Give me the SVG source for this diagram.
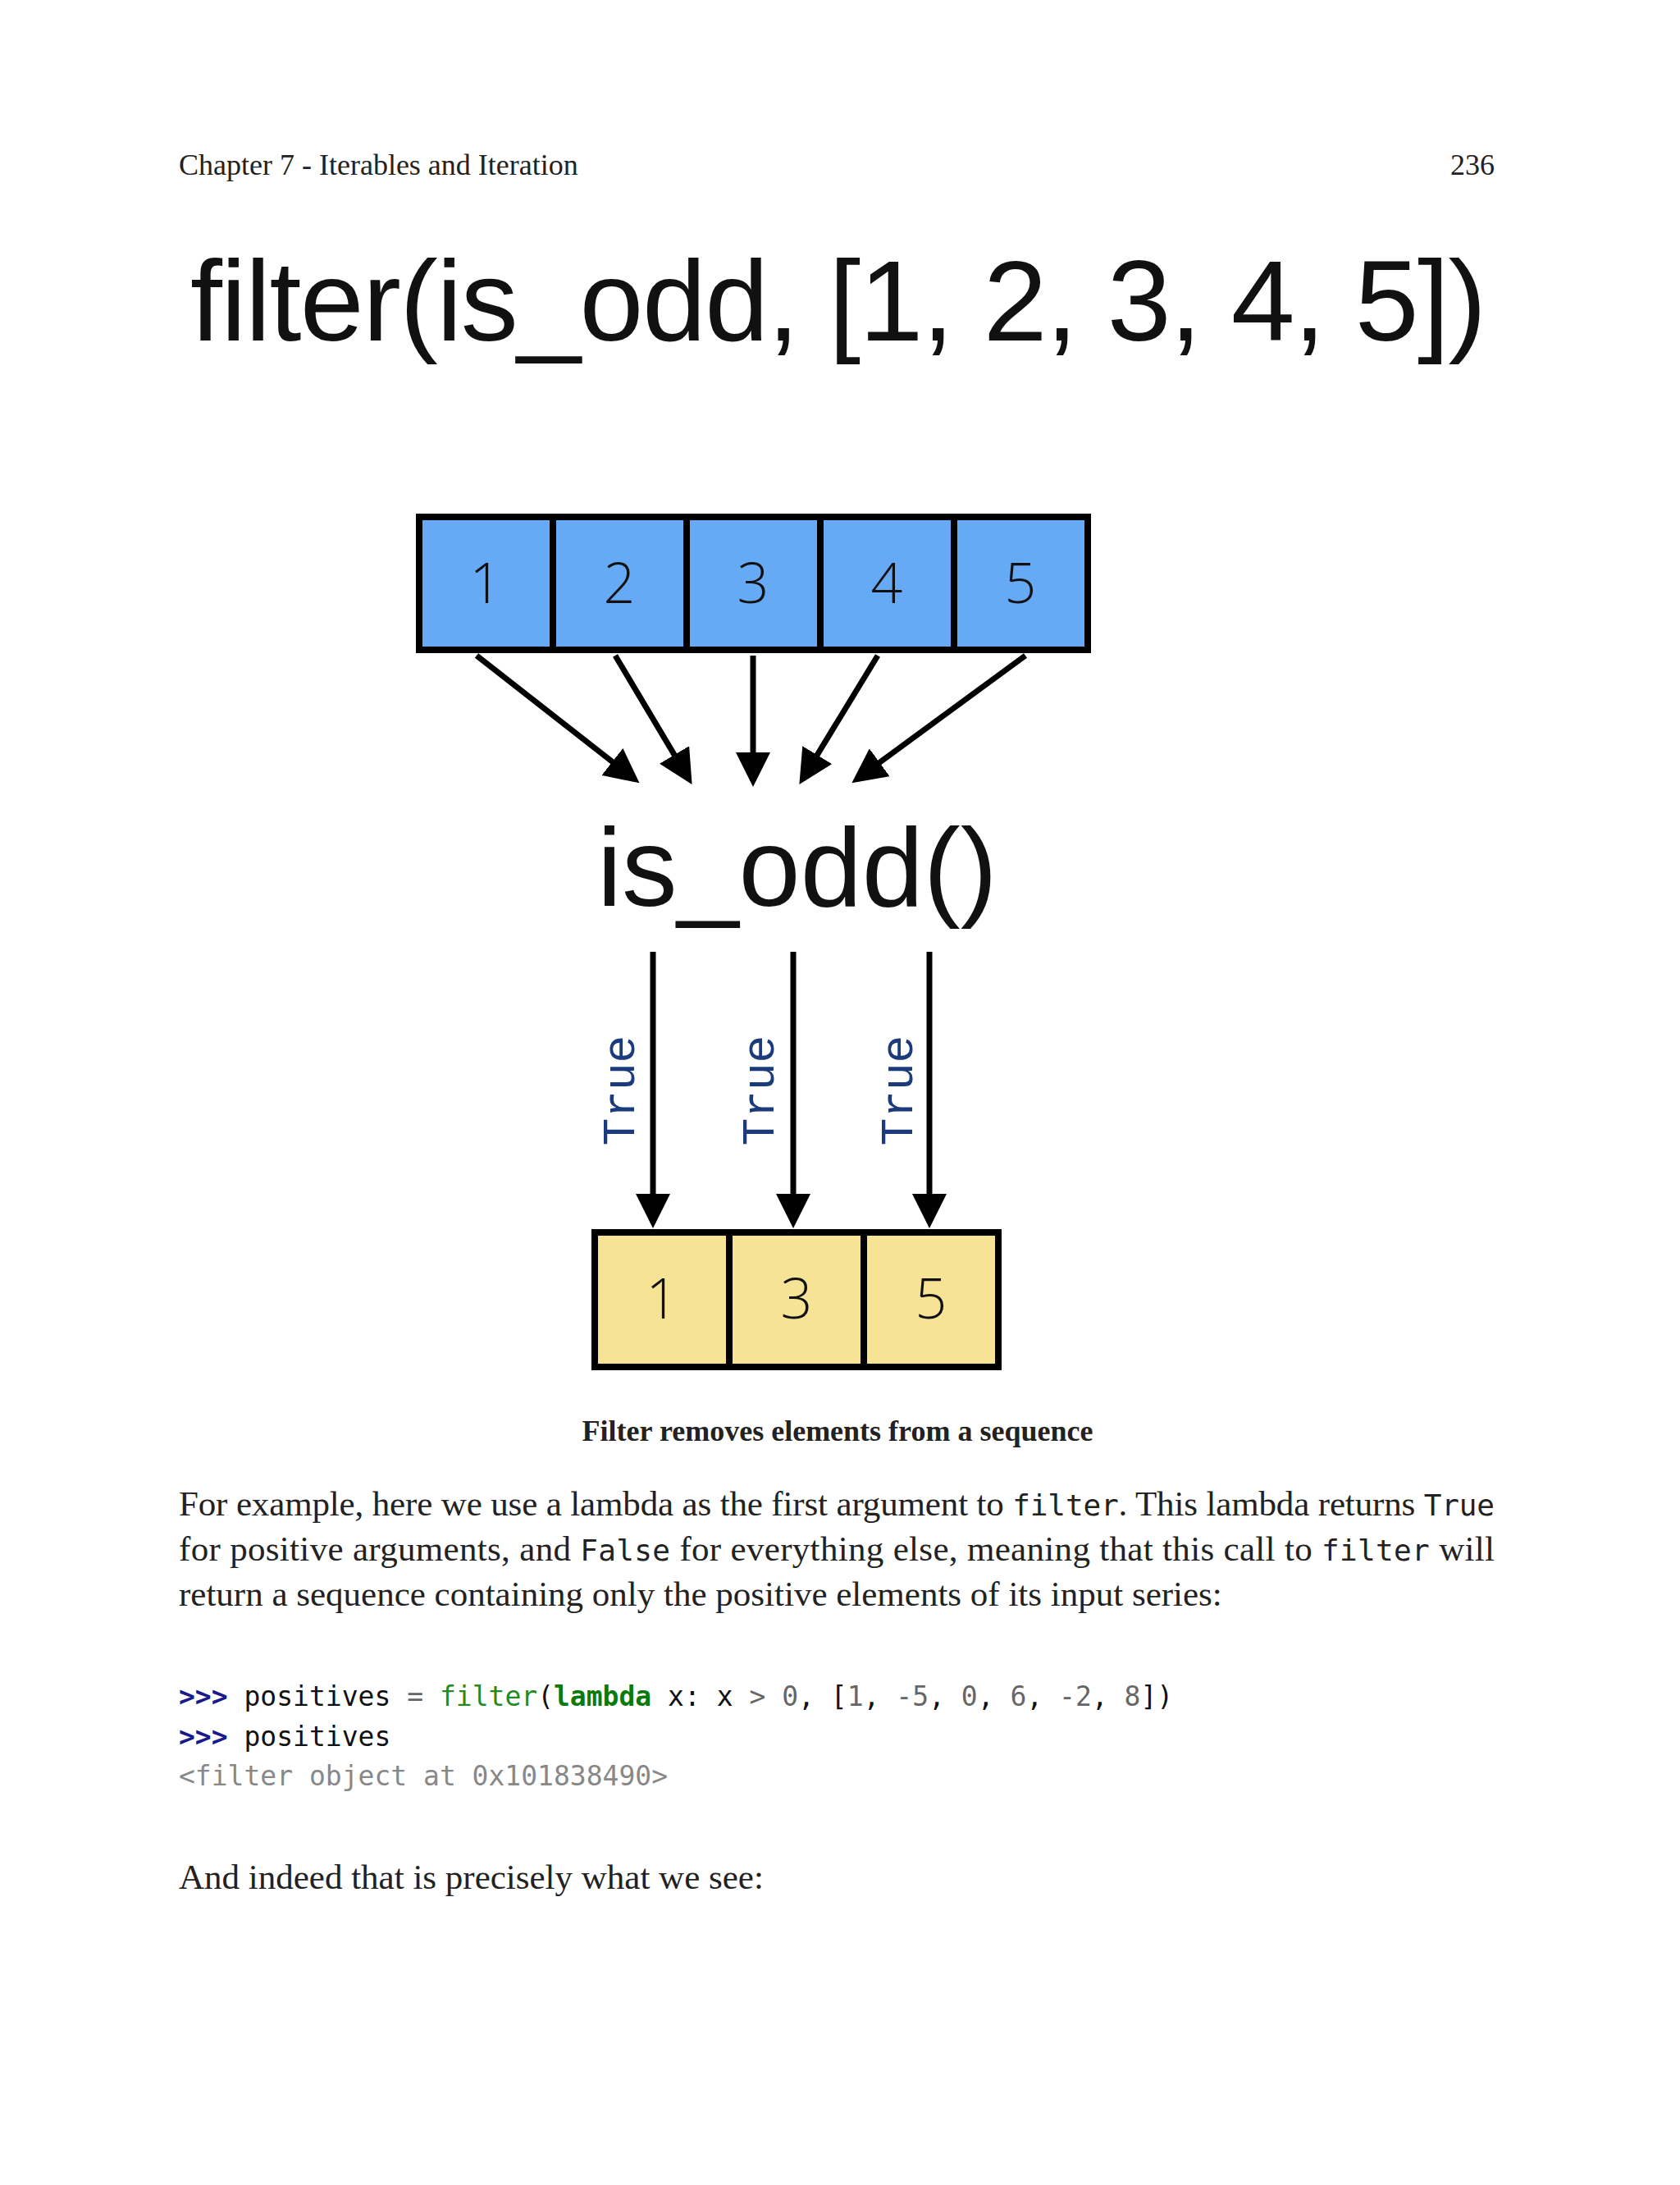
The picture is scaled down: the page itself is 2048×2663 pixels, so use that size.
<svg xmlns="http://www.w3.org/2000/svg" width="2048" height="2663" viewBox="0 0 2048 2663">
<defs>
<style>
.hdr{font-family:"Liberation Serif",serif;font-size:36px;fill:#222}
.cell{stroke:#000;stroke-width:8}
.blue{fill:#66aaf5}
.yel{fill:#f7e396}
.num{font-family:"Open Sans",sans-serif;font-weight:300;font-size:68px;fill:#111;text-anchor:middle}
.conn{stroke:#000;stroke-width:7;fill:none;marker-end:url(#ah)}
.tru{font-family:"Liberation Mono",monospace;font-size:56px;fill:#1c3b7c;text-anchor:middle}
.body{font-family:"Liberation Serif",serif;font-size:43px;fill:#222}
.mono{font-family:"DejaVu Sans Mono",monospace;font-size:36px}
.code{font-family:"DejaVu Sans Mono",monospace;font-size:33px;fill:#111}
</style>
<marker id="ah" markerWidth="6" markerHeight="6" refX="5" refY="3" orient="auto" markerUnits="strokeWidth">
<path d="M0,0 L6,3 L0,6 z" fill="#000"/>
</marker>
</defs>
<rect width="2048" height="2663" fill="#fff"/>
<text class="hdr" x="218" y="213">Chapter 7 - Iterables and Iteration</text>
<text class="hdr" x="1822" y="213" text-anchor="end">236</text>
<text x="232" y="415" font-family="Liberation Sans,sans-serif" font-size="140" fill="#111" textLength="1580" lengthAdjust="spacing">filter(is_odd, [1, 2, 3, 4, 5])</text>
<g id="input">
<rect class="cell blue" x="511" y="630" width="163" height="162"/>
<rect class="cell blue" x="674" y="630" width="163" height="162"/>
<rect class="cell blue" x="837" y="630" width="163" height="162"/>
<rect class="cell blue" x="1000" y="630" width="163" height="162"/>
<rect class="cell blue" x="1163" y="630" width="163" height="162"/>
<text class="num" x="592" y="735">1</text>
<text class="num" x="755" y="735">2</text>
<text class="num" x="918" y="735">3</text>
<text class="num" x="1081" y="735">4</text>
<text class="num" x="1244" y="735">5</text>
</g>
<g id="func">
<text x="728" y="1104" font-family="Liberation Sans,sans-serif" font-size="135" fill="#111">is_odd()</text>
</g>
<g id="output">
<rect class="cell yel" x="725" y="1502" width="164" height="164"/>
<rect class="cell yel" x="889" y="1502" width="164" height="164"/>
<rect class="cell yel" x="1053" y="1502" width="164" height="164"/>
<text class="num" x="807" y="1607">1</text>
<text class="num" x="971" y="1607">3</text>
<text class="num" x="1135" y="1607">5</text>
</g>
<g id="connectors">
<line class="conn" x1="581" y1="799" x2="774" y2="950"/>
<line class="conn" x1="750" y1="799" x2="840" y2="950"/>
<line class="conn" x1="918" y1="799" x2="918" y2="952"/>
<line class="conn" x1="1070" y1="799" x2="978" y2="950"/>
<line class="conn" x1="1250" y1="799" x2="1044" y2="950"/>
<line class="conn" x1="796" y1="1160" x2="796" y2="1490"/>
<line class="conn" x1="967" y1="1160" x2="967" y2="1490"/>
<line class="conn" x1="1133" y1="1160" x2="1133" y2="1490"/>
<text class="tru" transform="translate(773,1329) rotate(-90)">True</text>
<text class="tru" transform="translate(943,1329) rotate(-90)">True</text>
<text class="tru" transform="translate(1112,1329) rotate(-90)">True</text>
</g>
<text x="1021" y="1756" font-family="Liberation Serif,serif" font-weight="bold" font-size="36" fill="#222" text-anchor="middle">Filter removes elements from a sequence</text>
<text class="body" x="218" y="1847" textLength="1604" lengthAdjust="spacing">For example, here we use a lambda as the first argument to <tspan class="mono">filter</tspan>. This lambda returns <tspan class="mono">True</tspan></text>
<text class="body" x="218" y="1902" textLength="1604" lengthAdjust="spacing">for positive arguments, and <tspan class="mono">False</tspan> for everything else, meaning that this call to <tspan class="mono">filter</tspan> will</text>
<text class="body" x="218" y="1957">return a sequence containing only the positive elements of its input series:</text>
<text class="code" x="218" y="2079"><tspan fill="#1a1a8c" font-weight="bold">&gt;&gt;&gt;</tspan> positives <tspan fill="#666">=</tspan> <tspan fill="#228b22">filter</tspan>(<tspan fill="#0a7a0a" font-weight="bold">lambda</tspan> x: x <tspan fill="#666">&gt;</tspan> <tspan fill="#666">0</tspan>, [<tspan fill="#666">1</tspan>, <tspan fill="#666">-5</tspan>, <tspan fill="#666">0</tspan>, <tspan fill="#666">6</tspan>, <tspan fill="#666">-2</tspan>, <tspan fill="#666">8</tspan>])</text>
<text class="code" x="218" y="2128"><tspan fill="#1a1a8c" font-weight="bold">&gt;&gt;&gt;</tspan> positives</text>
<text class="code" x="218" y="2176" style="fill:#888">&lt;filter object at 0x101838490&gt;</text>
<text class="body" x="218" y="2302">And indeed that is precisely what we see:</text>
</svg>
